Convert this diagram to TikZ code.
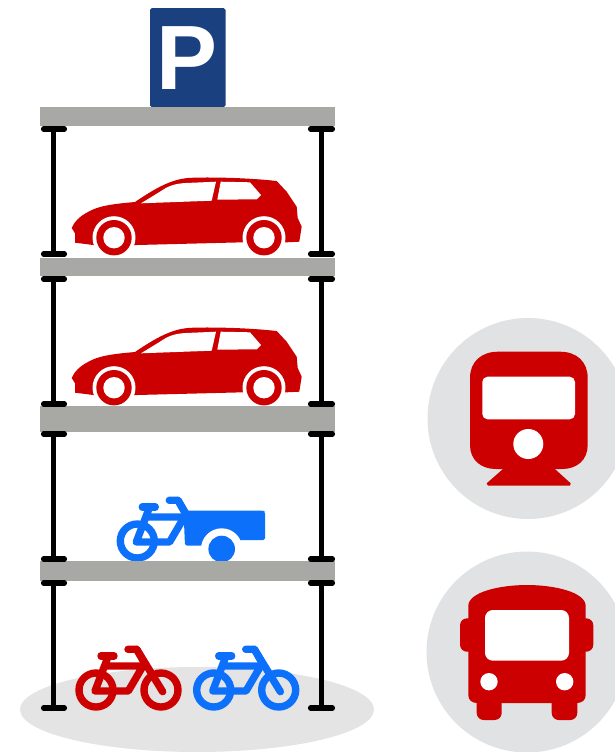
\documentclass[tikz,border=0pt]{standalone}
\usepackage{fontspec}
\usepackage{xcolor}
\setsansfont{Liberation Sans}
\definecolor{carred}{RGB}{204,0,0}
\definecolor{bikeblue}{RGB}{12,112,250}
\definecolor{signblue}{RGB}{27,64,128}
\definecolor{slabgray}{RGB}{168,168,164}
\definecolor{disc}{RGB}{225,226,227}
\definecolor{ground}{RGB}{228,228,228}

\tikzset{
  slab/.style={fill=slabgray, draw=none},
  post/.style={line width=3pt, black},
  flange/.style={line width=3pt, black, line cap=round},
  wheelring/.style={line width=4.2pt},
  tube/.style={line width=4.2pt, line cap=round, line join=round},
  car/.pic={
    \fill[carred] (276.7,181) .. controls (250,178) and (215,177) .. (193.3,177.7)
      .. controls (175,178) and (160,185) .. (135,202)
      .. controls (112,204) and (98,206) .. (88,212)
      .. controls (80,216) and (74,222) .. (71.7,228) -- (75,233.3) -- (75,242.7)
      -- (93.3,245) -- (137.3,245) -- (243.3,242.3) -- (286.7,242.3) -- (299.3,241.7)
      -- (301.7,226.7) -- (297.7,218) -- (296.7,206.7) -- (286.7,191.7) -- cycle;
    \fill[white] (141,203.3) -- (160,191.7) .. controls (168,186) and (175,183.5) .. (186,183)
      -- (216,181.7) -- (211.7,200.7) -- cycle;
    \fill[white] (220.7,181.7) -- (250,182.3) -- (261,195) -- (256.7,199.3) -- (217.3,199.7) -- cycle;
    \foreach \wx in {114,264} {
      \fill[white] (\wx,237.7) circle (21.5);
      \fill[carred] (\wx,237.7) circle (17.7);
      \fill[white] (\wx,237.7) circle (10.7);
    }
  },
  bikeframe/.pic={
    \draw[wheelring] (96,690) circle (17);
    \draw[tube] (101,656) -- (114,656);
    \draw[tube] (108.3,656) -- (95,691) -- (128.3,691) -- (143,666) -- (105,666);
    \draw[tube] (128,649.3) -- (136.7,649.3) -- (145,664);
  },
  bike/.pic={
    \pic {bikeframe};
    \draw[wheelring] (161,690) circle (17);
    \draw[tube] (136.7,649.3) -- (162.7,691.7);
  }
}

\begin{document}
\begin{tikzpicture}[x=0.02cm, y=-0.02cm]
\useasboundingbox (0,0) rectangle (615,752);
\clip (0,0) rectangle (615,752);

%% ground
\fill[ground] (197,709.5) ellipse (177 and 42.5);

%% parking sign
\fill[signblue, rounded corners=1pt] (150,8) rectangle (225.5,107);
\node[white, font=\sffamily\bfseries\fontsize{52pt}{52pt}\selectfont, inner sep=0pt] (letterP) at (186.5,58) {P};

%% cars and bikes
\pic at (0,0) {car};
\pic at (0,150) {car};

\begin{scope}[shift={(41.3,-149)}, color=bikeblue]
  \pic {bikeframe};
  \draw[tube] (136.7,649.3) -- (147,667);
\end{scope}
\fill[bikeblue, rounded corners=1pt] (183.5,510.7) -- (263.5,510.7) -- (265,511.5) -- (265,540) -- (243,540)
  -- (203,545.7) -- (185,545.7) -- cycle;
\fill[white] (221.7,549) circle (20.7);
\fill[bikeblue] (221.7,549) circle (13.3);

\begin{scope}[color=carred]
  \pic {bike};
\end{scope}
\begin{scope}[shift={(117.7,0)}, color=bikeblue]
  \pic {bike};
\end{scope}

%% floors
\foreach \ya/\yb in {107/125.5, 258/276, 406/432, 561/581} {
  \fill[slab] (40,\ya) rectangle (335,\yb);
}

%% columns
\foreach \ytop/\ybot in {129/254, 279/404, 434/559, 583/708} {
  \foreach \xc/\xa/\xb in {53.5/43.6/64.4, 321.5/310.6/332.4} {
    \draw[post] (\xc,\ytop) -- (\xc,\ybot);
    \draw[flange] (\xa,\ytop) -- (\xb,\ytop);
    \draw[flange] (\xa,\ybot) -- (\xb,\ybot);
  }
}

%% train
\fill[disc] (528,418.5) circle (100.5);
\fill[carred] (507,465.5) -- (486.7,483.3) -- (488,485.7) -- (570,485.7) -- (570.7,483.3) -- (551,465.5) -- cycle;
\fill[carred] (498,351.7) -- (560,351.7) .. controls (577,351.7) and (587.7,362) .. (587.7,378)
  -- (587.7,445) .. controls (587.7,460) and (577,469) .. (562,469) -- (496,469)
  .. controls (481,469) and (470,460) .. (470,445) -- (470,378)
  .. controls (470,362) and (481,351.7) .. (498,351.7) -- cycle;
\fill[white, rounded corners=3pt] (482.3,376.7) rectangle (575,419.3);
\fill[white] (528.3,444) circle (15);

%% bus
\fill[disc] (527,652) circle (100.5);
\fill[carred, rounded corners=4pt] (460,618.3) rectangle (593.3,651.7);
\fill[carred, rounded corners=4pt] (476.7,690) rectangle (501.7,720);
\fill[carred, rounded corners=4pt] (551.7,690) rectangle (577.3,720);
\fill[carred] (468.3,606) .. controls (468.3,592) and (500,585) .. (527,585)
  .. controls (554,585) and (585.7,592) .. (585.7,606) -- (585.7,695)
  .. controls (585.7,700) and (582,703) .. (577,703) -- (477,703)
  .. controls (472,703) and (468.3,700) .. (468.3,695) -- cycle;
\fill[white, rounded corners=4.5pt] (485,610) rectangle (569,660.7);
\foreach \hx in {489,564.7} {
  \fill[white] (\hx,681.7) circle (8.7);
}
\end{tikzpicture}
\end{document}
